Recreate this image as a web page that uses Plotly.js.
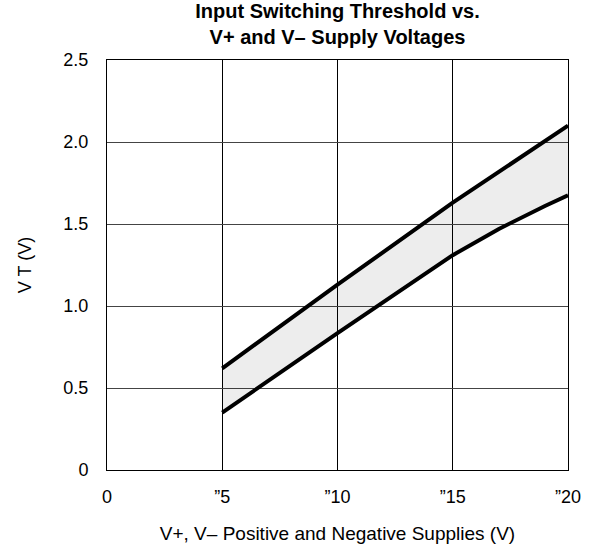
<!DOCTYPE html>
<html>
<head>
<meta charset="utf-8">
<script src="https://cdn.plot.ly/plotly-3.0.1.min.js"></script>
<style>html,body{margin:0;padding:0;background:#fff;}#chart{width:597px;height:546px;}</style>
</head>
<body>
<div id="chart"></div>
<script>
// Data
const supplyUpper = [5, 10, 15, 20];
const vtUpper = [0.62, 1.13, 1.63, 2.10];
const supplyLower = [5, 10, 15, 17, 19, 20];
const vtLower = [0.35, 0.835, 1.31, 1.47, 1.61, 1.675];
const xTickVals = [0, 5, 10, 15, 20];
const xTickText = ["0", "\u201D5", "\u201D10", "\u201D15", "\u201D20"];
const yTickVals = [0, 0.5, 1.0, 1.5, 2.0, 2.5];
const yTickText = ["0", "0.5", "1.0", "1.5", "2.0", "2.5"];

const font = "Liberation Sans, Arial, sans-serif";

const traces = [
  {x: supplyLower, y: vtLower, mode: 'lines', line: {color: '#000', width: 4}, hoverinfo: 'skip', showlegend: false},
  {x: supplyUpper, y: vtUpper, mode: 'lines', line: {color: '#000', width: 4}, fill: 'tonexty', fillcolor: 'rgba(0,0,0,0.07)', hoverinfo: 'skip', showlegend: false}
];

const layout = {
  width: 597, height: 546,
  margin: {l: 107, r: 29, t: 60, b: 76},
  paper_bgcolor: '#fff', plot_bgcolor: '#fff',
  font: {family: font, color: '#000', size: 18},
  title: {
    text: '<b>Input Switching Threshold vs.<br>V+ and V\u2013 Supply Voltages</b>',
    font: {family: font, size: 20, color: '#000'},
    x: 0.5, xref: 'paper', xanchor: 'center',
    y: 0.967, yref: 'container', yanchor: 'top'
  },
  xaxis: {
    range: [0, 20], tickmode: 'array', tickvals: xTickVals, ticktext: xTickText,
    showgrid: true, gridcolor: '#000', gridwidth: 1,
    showline: true, linecolor: '#000', linewidth: 1, mirror: true,
    zeroline: false, ticks: '', ticklabelstandoff: 10,
    tickfont: {family: font, size: 18, color: '#000'},
    title: {text: 'V+, V\u2013 Positive and Negative Supplies (V)', font: {family: font, size: 19, color: '#000'}, standoff: 21},
    fixedrange: true
  },
  yaxis: {
    range: [0, 2.5], tickmode: 'array', tickvals: yTickVals, ticktext: yTickText,
    showgrid: true, gridcolor: '#444', gridwidth: 1,
    showline: true, linecolor: '#000', linewidth: 1, mirror: true,
    zeroline: false, ticks: '', ticklabelstandoff: 14,
    tickfont: {family: font, size: 18, color: '#000'},
    title: {text: 'V T (V)', font: {family: font, size: 18, color: '#000'}, standoff: 27},
    fixedrange: true
  }
};

Plotly.newPlot('chart', traces, layout, {displayModeBar: false, staticPlot: true});
</script>
</body>
</html>
